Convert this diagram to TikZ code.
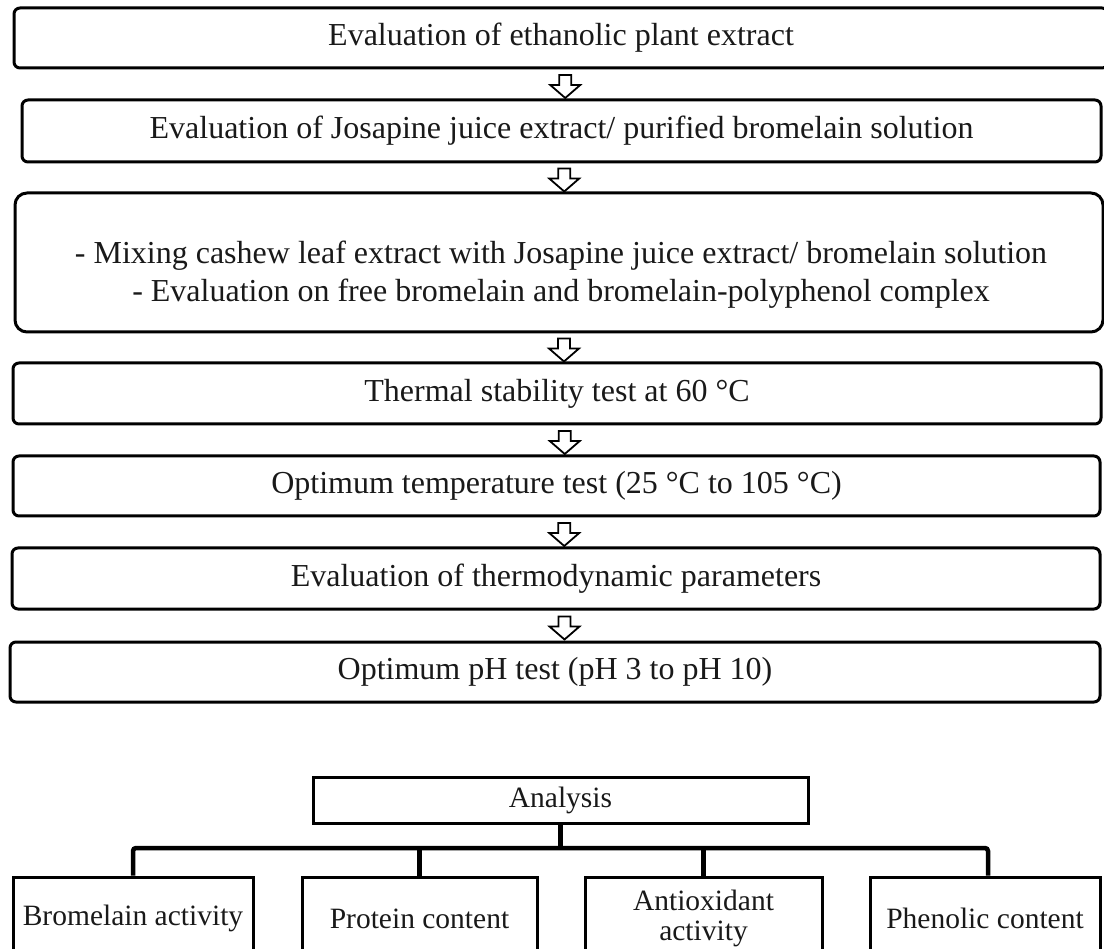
\documentclass[tikz,border=0pt]{standalone}
\usepackage{fontspec}
\setmainfont{Liberation Serif}
\usetikzlibrary{calc}
\begin{document}
\begin{tikzpicture}[x=1pt,y=-1pt,
  every node/.style={font=\fontsize{32}{38}\selectfont, text=black!90},
  stepbox/.style={draw, line width=3pt, rounded corners=6pt, inner sep=0pt},
  leafbox/.style={draw, line width=3pt, inner sep=0pt, minimum width=#1, minimum height=83pt, align=center, font=\fontsize{29.5}{30}\selectfont},
  tree/.style={line width=4.5pt},
  downblock/.pic={\draw[line width=1.8pt, fill=white, line join=miter]
     (-6,-10) -- (6,-10) -- (6,0) -- (15,0) -- (0,13) -- (-15,0) -- (-6,0) -- cycle;}
]
\useasboundingbox (0,0) rectangle (1104,949);
\clip (0,0) rectangle (1104,949);

\node[stepbox, minimum width=1094pt, minimum height=60pt] (b1) at (561,38) {Evaluation of ethanolic plant extract};
\node[stepbox, minimum width=1079pt, minimum height=62pt] (b2) at (561.5,131) {Evaluation of Josapine juice extract/ purified bromelain solution};
\node[stepbox, rounded corners=12pt, minimum width=1088pt, minimum height=139pt] (b3) at (559,262.5) {};
\node[align=center] (b3t) at (561,275) {- Mixing cashew leaf extract with Josapine juice extract/ bromelain solution\\- Evaluation on free bromelain and bromelain-polyphenol complex};
\node[stepbox, minimum width=1088pt, minimum height=61pt] (b4) at (557,393.5) {Thermal stability test at 60 °C};
\node[stepbox, minimum width=1087pt, minimum height=60pt] (b5) at (556.5,486) {Optimum temperature test (25 °C to 105 °C)};
\node[stepbox, minimum width=1088pt, minimum height=61pt] (b6) at (556,578.5) {Evaluation of thermodynamic parameters};
\node[stepbox, minimum width=1090pt, minimum height=60pt] (b7) at (555,672) {Optimum pH test (pH 3 to pH 10)};

\pic at ($(b1.south)!0.5!(b2.north)+(4,1)$) {downblock};
\pic at ($(b2.south)!0.5!(b3.north)+(4,1)$) {downblock};
\pic at ($(b3.south)!0.5!(b4.north)+(6,1)$) {downblock};
\pic at ($(b4.south)!0.5!(b5.north)+(8,1)$) {downblock};
\pic at ($(b5.south)!0.5!(b6.north)+(8,1)$) {downblock};
\pic at ($(b6.south)!0.5!(b7.north)+(9,1)$) {downblock};

\node[draw, line width=3pt, inner sep=0pt, minimum width=495pt, minimum height=46pt, font=\fontsize{29.5}{30}\selectfont] (an) at (560.5,800) {Analysis};
\node[leafbox=240pt] (n1) at (133,918.5) {Bromelain activity};
\node[leafbox=235pt] (n2) at (419.5,918.5) {Protein content};
\node[leafbox=237pt] (n3) at (703.5,918.5) {Antioxidant\\activity};
\node[leafbox=230pt] (n4) at (985,918.5) {Phenolic content};

\coordinate (bar) at (0,848);
\draw[tree] (an.south) -- (an.south |- bar);
\draw[tree, rounded corners=3pt] (n1.north) -- (n1.north |- bar) -- ([xshift=3pt]n4.north |- bar) -- ([xshift=3pt]n4.north);
\draw[tree] (n2.north) -- (n2.north |- bar);
\draw[tree] (n3.north) -- (n3.north |- bar);
\end{tikzpicture}
\end{document}
